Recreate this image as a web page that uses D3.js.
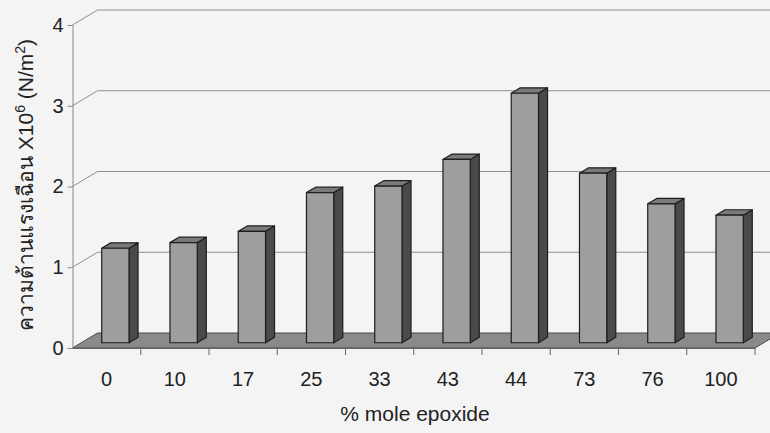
<!DOCTYPE html>
<html>
<head>
<meta charset="utf-8">
<script src="https://cdn.jsdelivr.net/npm/d3@7"></script>
<style>
  body { margin: 0; background: #f4f4f4; }
  svg { display: block; }
  text { font-family: "Liberation Sans", Arial, "Noto Sans", sans-serif; fill: #222; }
</style>
</head>
<body>
<div id="chart"></div>
<script>
// data
const categories = ["0", "10", "17", "25", "33", "43", "44", "73", "76", "100"];
const strength = [1.17, 1.24, 1.38, 1.86, 1.94, 2.27, 3.09, 2.10, 1.72, 1.58];
const yTicks = [0, 1, 2, 3, 4];

const width = 770, height = 433;
const plotLeft = 72.5, plotRight = 755, plotTop = 25, plotBottom = 348;
// 3d depth offset of back wall
const dx = 25, dy = -15;
const f0 = 0.35, f1 = 0.71;   // bar depth (front / back) as fraction

const x = d3.scaleBand().domain(categories).range([plotLeft, plotRight]).padding(0);
const y = d3.scaleLinear().domain([0, 4]).range([plotBottom, plotTop]);

const svg = d3.select("#chart").append("svg")
    .attr("width", width)
    .attr("height", height);

svg.append("rect")
    .attr("width", width).attr("height", height)
    .attr("fill", "#f4f4f4");

// GRIDLINES (back wall + side wall diagonals)
const grid = svg.append("g")
    .attr("fill", "none")
    .attr("stroke", "#8e8e8e")
    .attr("stroke-width", 1);

grid.selectAll("path")
    .data(yTicks.filter(d => d > 0))
    .join("path")
    .attr("d", d => `M${plotLeft},${y(d)} L${plotLeft + dx},${y(d) + dy} L${width + 10},${y(d) + dy}`);

// FLOOR
svg.append("path")
    .attr("d", `M${plotLeft},${plotBottom} L${plotRight},${plotBottom} L${plotRight + dx},${plotBottom + dy} L${plotLeft + dx},${plotBottom + dy} Z`)
    .attr("fill", "#8a8a8a")
    .attr("stroke", "#4a4a4a")
    .attr("stroke-width", 1);

// Y AXIS
const yAxis = svg.append("g")
    .attr("transform", `translate(${plotLeft},0)`)
    .call(d3.axisLeft(y).tickValues(yTicks).tickSize(5).tickPadding(4).tickFormat(d3.format("d")));
yAxis.select(".domain").attr("stroke", "#888");
yAxis.selectAll(".tick line").attr("stroke", "#888");
yAxis.selectAll("text")
    .style("font-size", "20px")
    .attr("fill", "#222");

// X AXIS
const xAxis = svg.append("g")
    .attr("transform", `translate(0,${plotBottom})`)
    .call(d3.axisBottom(x).tickSize(0).tickPadding(24));
xAxis.select(".domain").attr("stroke", "#666");
xAxis.selectAll("text")
    .style("font-size", "20px")
    .attr("fill", "#222");

svg.append("g")
    .attr("stroke", "#666")
    .selectAll("line")
    .data(categories.slice(1).concat(["end"]))
    .join("line")
    .attr("x1", d => d === "end" ? plotRight : x(d))
    .attr("x2", d => d === "end" ? plotRight : x(d))
    .attr("y1", plotBottom)
    .attr("y2", plotBottom + 7);

// BARS
const bw = x.bandwidth() * 0.4;
const bars = svg.append("g")
    .attr("stroke", "#1e1e1e")
    .attr("stroke-width", 1.2)
    .attr("stroke-linejoin", "round")
    .selectAll("g")
    .data(categories.map((c, i) => ({ cat: c, value: strength[i] })))
    .join("g");

const fx = d => x(d.cat) + (x.bandwidth() - bw) / 2 + dx * f0;
const fy = v => y(v) + dy * f0;
const ddx = dx * (f1 - f0), ddy = dy * (f1 - f0);

bars.append("path")   // side
    .attr("fill", "#4a4a4a")
    .attr("d", d => {
        const x1 = fx(d) + bw, yt = fy(d.value), yb = fy(0);
        return `M${x1},${yb} L${x1},${yt} L${x1 + ddx},${yt + ddy} L${x1 + ddx},${yb + ddy} Z`;
    });

bars.append("path")   // top
    .attr("fill", "#7a7a7a")
    .attr("d", d => {
        const x0 = fx(d), yt = fy(d.value);
        return `M${x0},${yt} L${x0 + bw},${yt} L${x0 + bw + ddx},${yt + ddy} L${x0 + ddx},${yt + ddy} Z`;
    });

bars.append("rect")   // front
    .attr("fill", "#9e9e9e")
    .attr("x", d => fx(d))
    .attr("y", d => fy(d.value))
    .attr("width", bw)
    .attr("height", d => fy(0) - fy(d.value));

// TITLES
svg.append("text")
    .attr("x", 415)
    .attr("y", 421)
    .attr("text-anchor", "middle")
    .style("font-size", "21px")
    .text("% mole epoxide");

const yTitle = svg.append("text")
    .attr("transform", `translate(33,185) rotate(-90)`)
    .attr("text-anchor", "middle")
    .style("font-size", "21px");
yTitle.append("tspan").text("ความต้านแรงเฉือน X10");
yTitle.append("tspan").attr("dy", -8).style("font-size", "14px").text("6");
yTitle.append("tspan").attr("dy", 8).text(" (N/m");
yTitle.append("tspan").attr("dy", -8).style("font-size", "14px").text("2");
yTitle.append("tspan").attr("dy", 8).text(")");
</script>
</body>
</html>
